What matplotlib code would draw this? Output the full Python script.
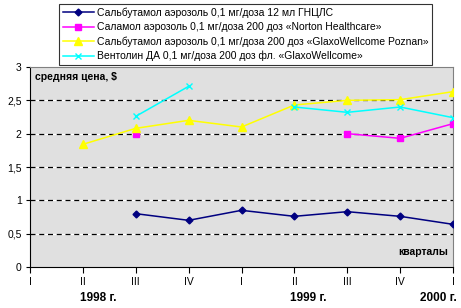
import matplotlib.pyplot as plt
import numpy as np

plt.rcParams['font.family'] = ['Liberation Sans', 'DejaVu Sans']

quarters = ["I", "II", "III", "IV", "I", "II", "III", "IV", "I"]
years = ["1998 г.", "1999 г.", "2000 г."]

series_names = [
    "Сальбутамол аэрозоль 0,1 мг/доза 12 мл ГНЦЛС",
    "Саламол аэрозоль 0,1 мг/доза 200 доз «Norton Healthcare»",
    "Сальбутамол аэрозоль 0,1 мг/доза 200 доз «GlaxoWellcome Poznan»",
    "Вентолин ДА 0,1 мг/доза 200 доз фл. «GlaxoWellcome»",
]
nan = np.nan
salbutamol_gnc = [nan, nan, 0.80, 0.70, 0.85, 0.76, 0.83, 0.76, 0.64]
salamol = [nan, nan, 1.99, nan, nan, nan, 2.00, 1.93, 2.15]
salbutamol_gw = [nan, 1.84, 2.08, 2.20, 2.10, 2.43, 2.50, 2.51, 2.63]
ventolin = [nan, nan, 2.26, 2.71, nan, 2.40, 2.32, 2.40, 2.24]

fig = plt.figure(figsize=(4.61, 3.08), dpi=100)
ax = fig.add_axes([30 / 461, 1 - 267 / 308, 423 / 461, 200 / 308])
ax.set_facecolor("#E0E0E0")

x = np.arange(len(quarters))
# gridlines: black dashes with white gaps
for yv in [0.5, 1, 1.5, 2, 2.5]:
    ax.axhline(yv, color="white", lw=0.9, zorder=1)
    ax.axhline(yv, color="black", lw=0.9, ls=(0, (4, 3)), zorder=1.1)

styles = [
    dict(color="#000080", marker="D", ms=3.5),
    dict(color="#FF00FF", marker="s", ms=4.5),
    dict(color="#FFFF00", marker="^", ms=5.5),
    dict(color="#00FFFF", marker="x", ms=4),
]
data = [salbutamol_gnc, salamol, salbutamol_gw, ventolin]
handles = []
for vals, st, name in zip(data, styles, series_names):
    h, = ax.plot(x, vals, lw=1.1, zorder=3, label=name, **st)
    handles.append(h)

ax.set_xlim(0, 8)
ax.set_ylim(0, 3)
ax.set_xticks(x)
ax.set_xticklabels(quarters, fontsize=7.5)
ax.set_yticks([0, 0.5, 1, 1.5, 2, 2.5, 3])
ax.set_yticklabels(["0", "0,5", "1", "1,5", "2", "2,5", "3"], fontsize=7.5)
ax.tick_params(axis="x", length=4, width=0.8, pad=3)
ax.tick_params(axis="y", length=3, width=0.8, pad=3)
for s in ["top", "right"]:
    ax.spines[s].set_color("#808080")
for s in ["left", "bottom"]:
    ax.spines[s].set_color("black")

ax.text(0.1, 2.85, "средняя цена, $", fontsize=7.5, fontweight="bold",
        va="center", ha="left", zorder=4)
ax.text(7.9, 0.22, "кварталы", fontsize=7.5, fontweight="bold",
        va="center", ha="right", zorder=4)

for xp, lab in zip([1.29, 5.27, 7.73], years):
    ax.text(xp, -0.465, lab, fontsize=8.5, fontweight="bold",
            ha="center", va="center", clip_on=False)

leg = fig.legend(handles=handles, loc="upper left",
                 bbox_to_anchor=(59 / 461, 1 - 4 / 308), fontsize=7.45,
                 frameon=True, fancybox=False, edgecolor="black",
                 handlelength=3, handletextpad=0.3, labelspacing=0.4,
                 borderpad=0.35, borderaxespad=0)
leg.get_frame().set_linewidth(0.8)
leg.set_zorder(10)

fig.savefig("out.png", dpi=100)
